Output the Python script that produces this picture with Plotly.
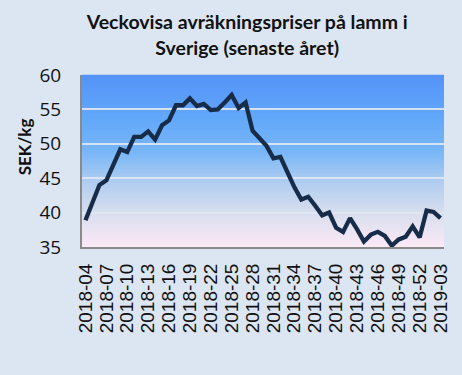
import plotly.graph_objects as go

# ---- data ----
weeks = [f"2018-{w:02d}" for w in range(4, 53)] + [f"2019-{w:02d}" for w in range(1, 4)]
prices = [38.9, 41.5, 44.0, 44.7, 46.9, 49.2, 48.8, 51.0, 51.0, 51.8,
          50.6, 52.7, 53.4, 55.6, 55.6, 56.6, 55.5, 55.8, 54.9, 55.0,
          56.0, 57.1, 55.2, 56.0, 51.9, 50.8, 49.7, 47.9, 48.1, 45.9,
          43.7, 41.9, 42.3, 41.0, 39.6, 40.0, 37.8, 37.2, 39.2, 37.6,
          35.8, 36.8, 37.2, 36.6, 35.2, 36.1, 36.5, 38.0, 36.4, 40.3,
          40.1, 39.2]
tick_labels = weeks[::3]
y_ticks = [35, 40, 45, 50, 55, 60]

title_text = "Veckovisa avräkningspriser på lamm i<br>Sverige (senaste året)"
y_title = "SEK/kg"

# ---- gradient background (style only) ----
stops = [(0.0, (84, 146, 248)), (0.25, (98, 168, 250)), (0.45, (120, 182, 248)),
         (0.62, (175, 205, 240)), (0.8, (215, 222, 238)), (1.0, (252, 233, 246))]

def grad(t):
    for (a, ca), (b, cb) in zip(stops[:-1], stops[1:]):
        if a <= t <= b:
            f = (t - a) / (b - a)
            return tuple(round(ca[i] + (cb[i] - ca[i]) * f) for i in range(3))
    return stops[-1][1]

shapes = []
N = 86
for k in range(N):
    t = (k + 0.5) / N
    c = grad(t)
    shapes.append(dict(type="rect", xref="paper", yref="paper", x0=0, x1=1,
                       y0=1 - (k + 1) / N, y1=1 - k / N + 0.002, layer="below",
                       line=dict(width=0), fillcolor=f"rgb{c}"))

fig = go.Figure()
fig.add_trace(go.Scatter(x=weeks, y=prices, mode="lines",
                         line=dict(color="#172C48", width=4.3), hoverinfo="skip"))

fig.update_layout(
    width=462, height=375,
    margin=dict(l=82, r=18, t=75, b=128),
    paper_bgcolor="#DCE6F2", plot_bgcolor="rgba(0,0,0,0)",
    showlegend=False,
    shapes=shapes,
    title=dict(text=title_text, x=0.535, xanchor="center", y=0.922, yanchor="middle",
               font=dict(family="Lato", size=19.5, color="#111111", weight="bold")),
    annotations=[dict(text=y_title, xref="paper", yref="paper", x=-0.16, y=0.58,
                      xanchor="center", yanchor="middle", textangle=-90, showarrow=False,
                      font=dict(family="Lato", size=17, color="#111111", weight="bold"))],
)
fig.update_xaxes(type="category", range=[-0.5, len(weeks) - 0.5],
                 tickmode="array", tickvals=tick_labels, ticktext=tick_labels,
                 tickangle=-90, ticks="outside", ticklen=7, tickcolor="rgba(0,0,0,0)",
                 tickfont=dict(family="Liberation Sans", size=19, color="#111111"),
                 showgrid=False, showline=True, linecolor="#8A8A8A", linewidth=2,
                 zeroline=False)
fig.update_yaxes(range=[35, 60], tickvals=y_ticks, ticks="outside", ticklen=15,
                 tickcolor="rgba(0,0,0,0)",
                 tickfont=dict(family="Open Sans", size=19, color="#111111"),
                 showgrid=True, gridcolor="rgba(225,232,242,0.9)", gridwidth=2,
                 showline=True, linecolor="#8A8A8A", linewidth=2, zeroline=False)

fig.write_html("out.html", config={"displayModeBar": False},
               post_script="document.body.style.margin='0';"
                           "document.body.style.background='#DCE6F2';")
